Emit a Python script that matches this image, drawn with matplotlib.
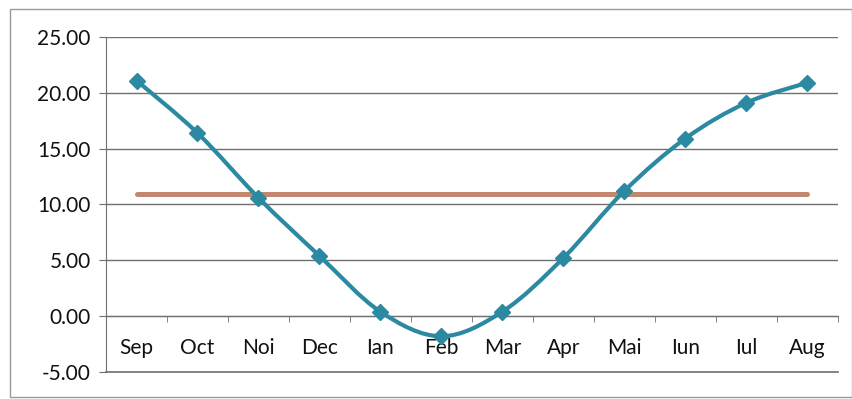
import numpy as np
import matplotlib.pyplot as plt
from matplotlib.path import Path
from matplotlib.patches import PathPatch, Rectangle

# monthly values and the flat reference line
months = ['Sep', 'Oct', 'Noi', 'Dec', 'Ian', 'Feb', 'Mar', 'Apr', 'Mai', 'Iun', 'Iul', 'Aug']
temps = [21.1, 16.4, 10.6, 5.4, 0.4, -1.8, 0.4, 5.2, 11.2, 15.9, 19.1, 20.9]
mean_line = [10.9] * 12

y_ticks = [-5, 0, 5, 10, 15, 20, 25]

TEAL = '#2C89A2'
BROWN = '#C3876F'
GRID = '#707070'


def smooth_path(xs, ys):
    """Catmull-Rom style bezier path through the points (like Excel's smoothed line)."""
    pts = np.column_stack([xs, ys]).astype(float)
    n = len(pts)
    verts = [pts[0]]
    codes = [Path.MOVETO]
    for i in range(n - 1):
        p0 = pts[i - 1] if i > 0 else pts[i]
        p1 = pts[i]
        p2 = pts[i + 1]
        p3 = pts[i + 2] if i + 2 < n else pts[i + 1]
        c1 = p1 + (p2 - p0) / 6.0
        c2 = p2 - (p3 - p1) / 6.0
        verts += [c1, c2, p2]
        codes += [Path.CURVE4] * 3
    return Path(verts, codes)


fig = plt.figure(figsize=(8.53, 3.99), dpi=100)
plt.rcParams['font.family'] = ['Lato', 'DejaVu Sans']

ax = fig.add_axes([0.1243, 0.0677, 0.8577, 0.8396])
x = np.arange(len(months))

# flat line first, temperature curve on top
ax.plot(x, mean_line, color=BROWN, lw=3.6, solid_capstyle='round', zorder=3)
ax.add_patch(PathPatch(smooth_path(x, temps), facecolor='none', edgecolor=TEAL,
                       lw=3.0, zorder=4))
ax.plot(x, temps, ls='none', marker='D', ms=8.5, color=TEAL, zorder=5)

ax.set_xlim(-0.5, len(months) - 0.5)
ax.set_ylim(-5, 25)
ax.set_yticks(y_ticks)
ax.set_yticklabels([f'{v:.2f}' for v in y_ticks], fontsize=15, color='#111111')
ax.yaxis.grid(True, color=GRID, lw=1.0)
ax.axhline(-5, color=GRID, lw=1.2, clip_on=False, zorder=1)
ax.set_axisbelow(True)

# category axis sits on y=0, ticks between categories
ax.spines['bottom'].set_position(('data', 0))
ax.spines['bottom'].set_color(GRID)
ax.spines['left'].set_color(GRID)
ax.spines['top'].set_visible(False)
ax.spines['right'].set_visible(False)
ax.set_xticks(x)
ax.set_xticklabels(months, fontsize=15, color='#111111')
ax.set_xticks(np.arange(len(months) + 1) - 0.5, minor=True)
ax.tick_params(axis='x', which='major', length=0, pad=16)
ax.tick_params(axis='x', which='minor', length=4, color=GRID, direction='out')
ax.tick_params(axis='y', length=5, color=GRID, pad=6)

# outer chart frame
fig.patches.append(Rectangle((10 / 853, 2 / 399), 842 / 853, 388 / 399,
                             transform=fig.transFigure, fill=False,
                             edgecolor='#9A9A9A', lw=1.0))

fig.savefig('out.png', dpi=100)
